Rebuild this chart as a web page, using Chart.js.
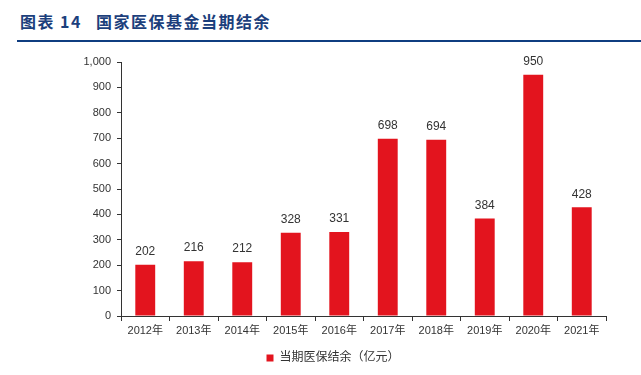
<!DOCTYPE html>
<html>
<head>
<meta charset="utf-8">
<script src="https://cdn.jsdelivr.net/npm/chart.js@4"></script>
<style>
  html, body { margin: 0; padding: 0; background: #fff; }
  #wrap { position: relative; width: 641px; height: 375px; }
  #title {
    position: absolute; left: 20px; top: 9px;
    font-family: "Noto Sans CJK SC", sans-serif; font-weight: bold;
    font-size: 16px; color: #1c3f7c; letter-spacing: 1.5px; white-space: nowrap;
  }
  #title .num { margin-left: 5px; margin-right: 14px; }
  #rule { position: absolute; left: 17px; top: 40px; width: 624px; height: 2px; background: #0f3d80; }
  canvas { position: absolute; left: 0; top: 0; }
</style>
</head>
<body>
<div id="wrap">
  <div id="title">图表<span class="num">14</span>国家医保基金当期结余</div>
  <div id="rule"></div>
  <canvas id="chart" width="641" height="375"></canvas>
</div>
<script>
const years = ['2012年', '2013年', '2014年', '2015年', '2016年', '2017年', '2018年', '2019年', '2020年', '2021年'];
const balance = [202, 216, 212, 328, 331, 698, 694, 384, 950, 428];
const seriesName = '当期医保结余（亿元）';

const FONT = '"Liberation Sans", "Noto Sans CJK SC", sans-serif';

// draws the value above each bar
const valueLabels = {
    id: 'valueLabels',
    afterDatasetsDraw: function(chart) {
        const ctx = chart.ctx;
        const meta = chart.getDatasetMeta(0);
        ctx.save();
        ctx.font = '12px ' + FONT;
        ctx.fillStyle = '#333333';
        ctx.textAlign = 'center';
        ctx.textBaseline = 'middle';
        meta.data.forEach(function(bar, i) {
            ctx.fillText(String(balance[i]), bar.x, bar.y - 13);
        });
        ctx.restore();
    }
};

// the legend sits a bit right of the layout centre in the original
const legendShift = {
    id: 'legendShift',
    afterLayout: function(chart) {
        if (chart.legend) {
            chart.legend.left += 30;
            chart.legend.right += 30;
        }
    }
};

new Chart(document.getElementById('chart'), {
    type: 'bar',
    data: {
        labels: years,
        datasets: [{
            label: seriesName,
            data: balance,
            backgroundColor: '#e3141e',
            borderWidth: 0,
            categoryPercentage: 1,
            barPercentage: 0.41
        }]
    },
    options: {
        responsive: false,
        animation: false,
        layout: { padding: { left: 0, right: 35, top: 62, bottom: 1 } },
        plugins: {
            legend: {
                position: 'bottom',
                labels: {
                    font: { size: 12, family: FONT },
                    color: '#333333',
                    boxWidth: 7,
                    boxHeight: 7,
                    padding: 10
                }
            },
            tooltip: { enabled: false }
        },
        scales: {
            x: {
                offset: true,
                grid: { offset: true, drawOnChartArea: false, drawTicks: true, tickLength: 5, color: '#333333' },
                border: { color: '#333333' },
                ticks: { font: { size: 11, family: FONT }, color: '#333333', padding: 3, maxRotation: 0 },
                afterFit: function(s) { s.height = 26; }
            },
            y: {
                min: 0, max: 1000,
                ticks: { stepSize: 100, font: { size: 11, family: FONT }, color: '#333333', padding: 6 },
                grid: { drawOnChartArea: false, drawTicks: true, tickLength: 4, color: '#333333' },
                border: { color: '#333333' },
                afterFit: function(s) { s.width = 121; }
            }
        }
    },
    plugins: [valueLabels, legendShift]
});
</script>
</body>
</html>
